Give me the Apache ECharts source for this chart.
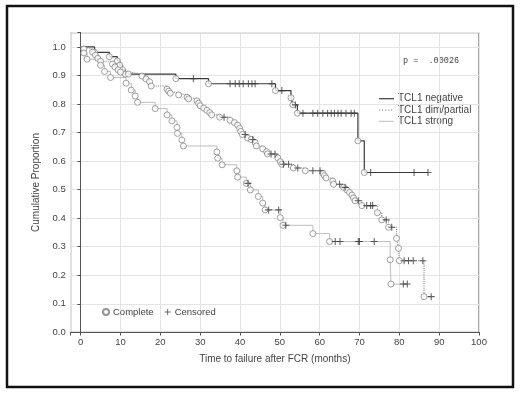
<!DOCTYPE html>
<html>
<head>
<meta charset="utf-8">
<script src="https://cdn.jsdelivr.net/npm/echarts@6/dist/echarts.min.js"></script>
<style>html,body{margin:0;padding:0;background:#fff;}#c{width:520px;height:394px;}</style>
</head>
<body>
<div id="c"></div>
<script>
// ---- data (time in months, cumulative proportion) ----
const seriesNames = ['TCL1 negative', 'TCL1 dim/partial', 'TCL1 strong'];
const negEvents = [[3.5,0.981],[7.2,0.966],[9.2,0.951],[9.8,0.936],[10.5,0.920],[11.2,0.905],[23.9,0.889],[32.1,0.871],[48.9,0.847],[52.8,0.822],[53.3,0.797],[54.4,0.768],[69.6,0.671],[71.2,0.560]];
const negCensored = [[28.3,0.889],[37.5,0.871],[38.8,0.871],[39.8,0.871],[40.8,0.871],[42.1,0.871],[43.0,0.871],[43.8,0.871],[48.0,0.871],[50.5,0.847],[53.9,0.797],[55.8,0.768],[58.3,0.768],[59.5,0.768],[60.8,0.768],[62.0,0.768],[62.9,0.768],[63.7,0.768],[64.6,0.768],[65.4,0.768],[66.6,0.768],[67.9,0.768],[68.7,0.768],[72.8,0.560],[83.7,0.560],[87.2,0.560]];
const dimEvents = [[0.8,0.993],[3.0,0.982],[3.7,0.971],[4.3,0.960],[5.0,0.950],[8.0,0.940],[8.6,0.930],[9.4,0.920],[10.0,0.912],[12.0,0.905],[15.4,0.898],[16.4,0.888],[17.3,0.878],[17.7,0.863],[21.7,0.852],[22.1,0.845],[22.5,0.838],[24.6,0.832],[26.7,0.824],[27.1,0.818],[29.2,0.811],[29.6,0.803],[30.0,0.794],[30.9,0.786],[31.7,0.778],[32.4,0.770],[32.9,0.762],[34.9,0.754],[37.5,0.743],[38.6,0.735],[39.4,0.726],[39.9,0.715],[40.2,0.704],[40.6,0.693],[41.9,0.681],[42.8,0.676],[43.8,0.665],[44.1,0.653],[45.7,0.643],[46.7,0.633],[46.9,0.625],[49.5,0.611],[50.1,0.598],[50.5,0.589],[53.4,0.576],[56.4,0.566],[60.8,0.557],[61.2,0.549],[61.6,0.541],[63.3,0.530],[63.5,0.519],[66.0,0.508],[66.8,0.499],[67.5,0.490],[68.1,0.481],[68.5,0.471],[68.9,0.461],[70.6,0.444],[74.5,0.419],[75.6,0.394],[77.3,0.368],[79.3,0.329],[79.8,0.294],[80.0,0.251],[86.2,0.125]];
const dimCensored = [[36.0,0.754],[41.3,0.693],[43.2,0.676],[47.8,0.625],[48.8,0.625],[50.9,0.589],[52.2,0.589],[54.5,0.576],[58.3,0.566],[60.1,0.566],[65.0,0.519],[66.4,0.508],[69.7,0.461],[71.8,0.444],[72.8,0.444],[73.3,0.444],[76.7,0.394],[78.1,0.368],[81.2,0.251],[82.3,0.251],[83.5,0.251],[85.9,0.251],[88.0,0.125]];
const strongEvents = [[0.8,0.979],[1.6,0.957],[5.0,0.936],[6.0,0.914],[7.5,0.893],[11.4,0.873],[12.7,0.849],[13.7,0.828],[14.3,0.806],[18.7,0.784],[21.7,0.762],[22.9,0.741],[24.2,0.718],[24.3,0.697],[25.4,0.674],[25.8,0.653],[34.2,0.632],[34.4,0.610],[35.5,0.587],[39.2,0.566],[39.4,0.544],[41.6,0.522],[42.6,0.499],[44.6,0.476],[45.7,0.453],[46.3,0.429],[50.1,0.402],[50.8,0.375],[58.3,0.346],[62.5,0.318],[77.7,0.254],[77.9,0.169]];
const strongCensored = [[42.0,0.522],[47.2,0.429],[49.7,0.429],[51.5,0.375],[63.9,0.318],[65.1,0.318],[69.7,0.318],[70.0,0.318],[73.7,0.318],[81.0,0.169],[82.0,0.169]];
const pText = 'p =  .00026';

// ---- build step lines ----
function stepLine(events, censored) {
  const pts = [[0, 1.0]].concat(events);
  const lastT = Math.max(events[events.length-1][0], censored.length ? censored[censored.length-1][0] : 0);
  pts.push([lastT, events[events.length-1][1]]);
  return pts;
}
const plusPath = 'path://M-0.15,-1H0.15V-0.15H1V0.15H0.15V1H-0.15V0.15H-1V-0.15H-0.15Z';
const lineColors = ['#3a3a3a', '#8a8a8a', '#bdbdbd'];
const lineTypes = ['solid', 'dotted', 'solid'];
const lineWidths = [1.2, 1.1, 1];
const evs = [negEvents, dimEvents, strongEvents];
const cens = [negCensored, dimCensored, strongCensored];

const series = [];
seriesNames.forEach((n, i) => {
  series.push({
    name: n, type: 'line', step: 'end', symbol: 'none', silent: true,
    data: stepLine(evs[i], cens[i]),
    lineStyle: { color: lineColors[i], type: lineTypes[i], width: lineWidths[i] },
    itemStyle: { color: lineColors[i] }, z: 2
  });
});
seriesNames.forEach((n, i) => {
  series.push({
    name: 'Complete', type: 'scatter', symbol: 'circle', symbolSize: 6,
    data: evs[i], itemStyle: { color: '#fff', borderColor: '#7a7a7a', borderWidth: 0.9 }, z: 4
  });
  series.push({
    name: 'Censored', type: 'scatter', symbol: plusPath, symbolSize: 7,
    data: cens[i], itemStyle: { color: '#3a3a3a' }, z: 5
  });
});

const axisColor = '#555';
const legendX = 379, legendY = [98.7, 110, 121.3];
const legendGraphics = [];
seriesNames.forEach((n, i) => {
  legendGraphics.push({
    type: 'line', shape: { x1: legendX, y1: legendY[i], x2: legendX + 15, y2: legendY[i] },
    style: { stroke: lineColors[i], lineWidth: lineWidths[i], lineDash: lineTypes[i] === 'dotted' ? [1.2, 1.8] : null }, silent: true
  });
  legendGraphics.push({
    type: 'text', x: legendX + 19, y: legendY[i],
    style: { text: n, font: '10px "Liberation Sans", Arial, sans-serif', fill: '#444', textVerticalAlign: 'middle' }, silent: true
  });
});

const chart = echarts.init(document.getElementById('c'));
chart.setOption({
  animation: false,
  backgroundColor: '#fff',
  textStyle: { fontFamily: 'Liberation Sans, Arial, sans-serif' },
  grid: { left: 70.7, right: 41, top: 32.7, bottom: 61.7, show: true, borderColor: axisColor, borderWidth: 1 },
  legend: [
    {
      data: [{ name: 'Complete', icon: 'circle' }, { name: 'Censored', icon: plusPath }],
      orient: 'horizontal', left: 97, top: 302,
      itemWidth: 6, itemHeight: 6, itemGap: 11,
      textStyle: { fontSize: 9.5, color: '#444', padding: [0, 0, 0, -1] },
      selectedMode: false
    }
  ],
  xAxis: [
    {
      type: 'value', min: -2.5, max: 100, splitNumber: 10, position: 'bottom',
      name: 'Time to failure after FCR (months)', nameLocation: 'middle', nameGap: 22,
      nameTextStyle: { fontSize: 10, color: '#444' },
      axisLine: { show: true, lineStyle: { color: axisColor } },
      axisTick: { show: true, length: 3, lineStyle: { color: axisColor } },
      axisLabel: { color: '#444', fontSize: 9.5, margin: 5, formatter: v => (v < 0 ? '' : String(v)) },
      splitLine: { show: true, lineStyle: { color: '#e4e4e4', width: 1 } }
    },
    {
      type: 'value', min: -2.5, max: 100, splitNumber: 10, position: 'top',
      axisLine: { show: true, lineStyle: { color: axisColor } },
      axisTick: { show: true, inside: true, length: 3, lineStyle: { color: axisColor } },
      axisLabel: { show: false }, splitLine: { show: false }
    }
  ],
  yAxis: [
    {
      type: 'value', min: 0, max: 1.05, interval: 0.1, position: 'left',
      name: 'Cumulative Proportion', nameLocation: 'middle', nameGap: 21,
      nameTextStyle: { fontSize: 10, color: '#444' },
      axisLine: { show: true, lineStyle: { color: axisColor } },
      axisTick: { show: true, length: 3, lineStyle: { color: axisColor } },
      axisLabel: { color: '#444', fontSize: 9.5, margin: 5, formatter: v => (v > 1.0001 ? '' : v.toFixed(1)) },
      splitLine: { show: true, lineStyle: { color: '#e4e4e4', width: 1 } }
    },
    {
      type: 'value', min: 0, max: 1.05, interval: 0.1, position: 'right',
      axisLine: { show: true, lineStyle: { color: axisColor } },
      axisTick: { show: true, inside: true, length: 3, lineStyle: { color: axisColor } },
      axisLabel: { show: false }, splitLine: { show: false }
    }
  ],
  graphic: [
    { type: 'rect', shape: { x: 7, y: 6, width: 506, height: 381 }, style: { fill: 'none', stroke: '#111', lineWidth: 2.5 }, silent: true },
    { type: 'text', left: 403, top: 56, style: { text: pText, font: '8.5px "Liberation Mono", monospace', fill: '#444' }, silent: true }
  ].concat(legendGraphics),
  series: series
});
</script>
</body>
</html>
